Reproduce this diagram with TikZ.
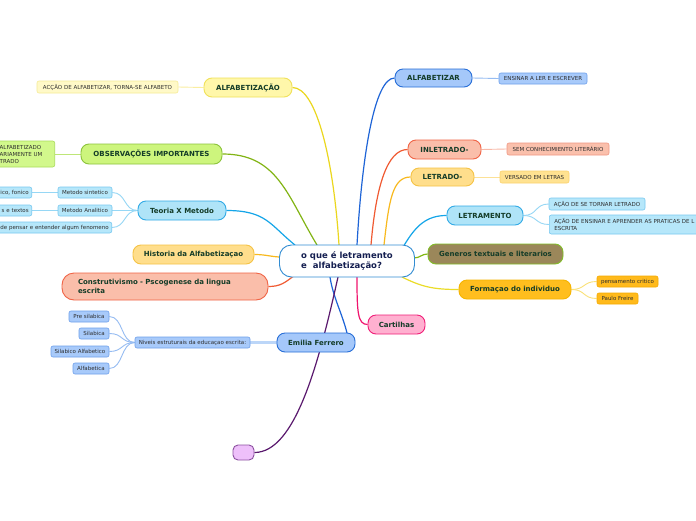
\documentclass[tikz,border=0pt]{standalone}
\usepackage{fontspec}
\setmainfont{DejaVu Sans}
\pgfdeclarelayer{bg}
\pgfsetlayers{bg,main}
\definecolor{tgreen}{RGB}{20,60,40}
\definecolor{tgray}{RGB}{45,45,45}
\definecolor{navy}{RGB}{20,30,80}
\definecolor{cblue}{RGB}{50,140,210}
% yellow (alfabetizacao)
\definecolor{yF}{RGB}{255,247,170}\definecolor{yD}{RGB}{240,225,90}\definecolor{yC}{RGB}{235,215,30}
\definecolor{ylF}{RGB}{255,249,200}\definecolor{ylD}{RGB}{245,235,150}\definecolor{ylC}{RGB}{250,238,160}
% green
\definecolor{gF}{RGB}{205,245,125}\definecolor{gD}{RGB}{140,195,60}\definecolor{gC}{RGB}{130,180,20}
\definecolor{glF}{RGB}{210,248,140}\definecolor{glD}{RGB}{170,220,90}\definecolor{glC}{RGB}{190,230,120}
% cyan
\definecolor{cF}{RGB}{175,228,248}\definecolor{cD}{RGB}{50,170,230}\definecolor{cC}{RGB}{20,165,232}
\definecolor{clF}{RGB}{182,231,250}\definecolor{clD}{RGB}{120,200,240}\definecolor{clC}{RGB}{150,215,245}
% orange-yellow
\definecolor{oF}{RGB}{255,222,140}\definecolor{oD}{RGB}{245,195,70}\definecolor{oC}{RGB}{248,185,30}
\definecolor{olF}{RGB}{255,226,145}\definecolor{olD}{RGB}{250,210,110}\definecolor{olC}{RGB}{252,225,150}
% salmon
\definecolor{sF}{RGB}{250,190,170}\definecolor{sD}{RGB}{240,100,70}\definecolor{sC}{RGB}{240,90,50}
\definecolor{slF}{RGB}{250,192,172}\definecolor{slD}{RGB}{240,150,130}\definecolor{slC}{RGB}{248,185,168}
% blue
\definecolor{bF}{RGB}{165,200,250}\definecolor{bD}{RGB}{40,110,215}\definecolor{bC}{RGB}{30,100,215}
\definecolor{blF}{RGB}{168,202,250}\definecolor{blD}{RGB}{110,160,235}\definecolor{blC}{RGB}{150,188,242}
\definecolor{bxC}{RGB}{188,214,248}
% purple
\definecolor{pF}{RGB}{238,192,250}\definecolor{pD}{RGB}{140,80,160}\definecolor{pC}{RGB}{90,25,110}
% magenta
\definecolor{mF}{RGB}{255,176,208}\definecolor{mD}{RGB}{240,30,120}\definecolor{mC}{RGB}{240,20,110}
% olive
\definecolor{vF}{RGB}{155,135,90}\definecolor{vD}{RGB}{130,190,40}\definecolor{vC}{RGB}{130,185,20}
% formacao
\definecolor{fF}{RGB}{255,190,30}\definecolor{fD}{RGB}{245,180,0}\definecolor{fC}{RGB}{235,220,40}
\definecolor{flF}{RGB}{255,186,28}\definecolor{flD}{RGB}{245,170,0}\definecolor{flC}{RGB}{250,225,120}
\begin{document}
\begin{tikzpicture}[x=1pt,y=-1pt,
  mainnode/.style={draw, rounded corners=8pt, line width=0.9pt, inner sep=0pt,
    font=\fontsize{7}{8.4}\selectfont\bfseries, text=tgreen},
  leafnode/.style={draw, rounded corners=2pt, line width=0.6pt, inner sep=0pt,
    font=\fontsize{5.5}{7}\selectfont, text=tgray},
  cutleft/.style={leafnode, anchor=east, text width=150pt, align=right, inner xsep=3pt},
  conn/.style={line width=1.2pt},
  lconn/.style={line width=0.9pt}]
\useasboundingbox (0,0) rectangle (696,520);

% center
\node[draw=cblue, fill=white, rounded corners=12pt, line width=0.9pt, inner sep=0pt,
  minimum width=135pt, minimum height=32pt, align=left,
  font=\fontsize{8.5}{10.5}\selectfont\bfseries, text=navy] (c) at (347,261)
  {o que é letramento\\e\ \ alfabetização?};

% left side
\node[mainnode, fill=yF, draw=yD, minimum width=88pt, minimum height=19pt] (alfa) at (248,87.5) {ALFABETIZAÇÃO};
\node[leafnode, fill=ylF, draw=ylD, minimum width=141pt, minimum height=12pt] (alfaL) at (107.5,87) {ACÇÃO DE ALFABETIZAR, TORNA-SE ALFABETO};

\node[mainnode, fill=gF, draw=gD, minimum width=141pt, minimum height=20pt] (obs) at (151.5,154) {OBSERVAÇÕES IMPORTANTES};
\node[leafnode, fill=glF, draw=glD, anchor=east, text width=52pt, align=left, inner xsep=3pt, minimum height=26pt] (obsL) at (55,154) {ALFABETIZADO\\ARIAMENTE UM\\TRADO};

\node[mainnode, fill=cF, draw=cD, minimum width=88pt, minimum height=19pt] (teo) at (182,210.5) {Teoria X Metodo};
\node[leafnode, fill=clF, draw=clD, minimum width=54pt, minimum height=11pt] (ms) at (85,192.5) {Metodo sintetico};
\node[leafnode, fill=clF, draw=clD, minimum width=54pt, minimum height=11pt] (ma) at (85,210.5) {Metodo Analitico};
\node[cutleft, fill=clF, draw=clD, minimum height=11pt] (dp) at (112,227.5) {de pensar e entender algum fenomeno};
\node[cutleft, fill=clF, draw=clD, minimum height=11pt] (ico) at (32,192.5) {ico, fonico};
\node[cutleft, fill=clF, draw=clD, minimum height=11pt] (ste) at (32,210.5) {s e textos};

\node[mainnode, fill=oF, draw=oD, minimum width=121pt, minimum height=19pt] (his) at (193.5,254.5) {Historia da Alfabetizaçao};
\node[mainnode, fill=sF, draw=sD, rounded corners=12pt, minimum height=27pt, text width=174pt, align=left, inner xsep=16pt] (con) at (165,286.5) {Construtivismo - Pscogenese da lingua\\escrita};

\node[mainnode, fill=bF, draw=bD, minimum width=78pt, minimum height=19pt] (em) at (316,342.5) {Emilia Ferrero};
\node[leafnode, fill=blF, draw=blD, minimum width=115pt, minimum height=11pt] (niv) at (192.5,342.5) {Niveis estruturais da educaçao escrita:};
\node[leafnode, fill=blF, draw=blD, minimum width=40pt, minimum height=11pt] (n1) at (89,316.5) {Pre silabica};
\node[leafnode, fill=blF, draw=blD, minimum width=30pt, minimum height=11pt] (n2) at (94,333.5) {Silabica};
\node[leafnode, fill=blF, draw=blD, minimum width=58pt, minimum height=11pt] (n3) at (80,351.5) {Silabico Alfabetico};
\node[leafnode, fill=blF, draw=blD, minimum width=36pt, minimum height=11pt] (n4) at (91,368.5) {Alfabetica};

\node[mainnode, fill=pF, draw=pD, rounded corners=5pt, minimum width=21pt, minimum height=15pt] (pur) at (243.5,452.5) {};
\node[mainnode, fill=mF, draw=mD, minimum width=57pt, minimum height=19pt] (cart) at (396.5,324.5) {Cartilhas};

% right side
\node[mainnode, fill=bF, draw=bD, minimum width=77pt, minimum height=18pt] (alfz) at (433.5,78) {ALFABETIZAR};
\node[leafnode, fill=blF, draw=blD, minimum width=88pt, minimum height=11pt] (ens) at (543,78.5) {ENSINAR A LER E ESCREVER};
\node[mainnode, fill=sF, draw=sD, minimum width=73pt, minimum height=19pt] (inl) at (444.5,149.5) {INLETRADO-};
\node[leafnode, fill=slF, draw=slD, minimum width=102pt, minimum height=12pt] (sem) at (558,149) {SEM CONHECIMIENTO LITERÁRIO};
\node[mainnode, fill=oF, draw=oD, minimum width=63pt, minimum height=18pt] (let) at (442.5,177) {LETRADO-};
\node[leafnode, fill=olF, draw=olD, minimum width=69pt, minimum height=12pt] (ver) at (534.5,177) {VERSADO EM LETRAS};
\node[mainnode, fill=cF, draw=cD, minimum width=76pt, minimum height=19pt] (ltm) at (485,215.5) {LETRAMENTO};
\node[leafnode, fill=clF, draw=clD, minimum width=96pt, minimum height=12pt] (l1) at (597,204) {AÇÃO DE SE TORNAR LETRADO};
\node[leafnode, fill=clF, draw=clD, anchor=west, text width=200pt, align=left, inner xsep=5pt, minimum height=19pt] (l2) at (549,224.5) {AÇÃO DE ENSINAR E APRENDER AS PRATICAS DE L\\ESCRITA};
\node[mainnode, fill=vF, draw=vD, minimum width=135pt, minimum height=20pt] (gen) at (495.5,254) {Generos textuais e literarios};
\node[mainnode, fill=fF, draw=fD, minimum width=112pt, minimum height=19pt] (form) at (515,289.5) {Formaçao do individuo};
\node[leafnode, fill=flF, draw=flD, minimum width=61pt, minimum height=11pt] (f1) at (627.5,281.5) {pensamento critico};
\node[leafnode, fill=flF, draw=flD, minimum width=41pt, minimum height=11pt] (f2) at (617.5,298.5) {Paulo Freire};

% attach points on the center node
\coordinate (tTeo) at (295,245);
\coordinate (tObs) at (317,245);
\coordinate (tAlfa) at (339,245);
\coordinate (tAlfz) at (357,245);
\coordinate (tInl) at (371,245);
\coordinate (tLet) at (384,245);
\coordinate (tLtm) at (404,245.5);
\coordinate (eGen) at (414,258);
\coordinate (bForm) at (402,277);
\coordinate (bCart) at (357,277);
\coordinate (bEm) at (330,277);
\coordinate (bPur) at (338,277);
\coordinate (bCon) at (293,276.5);
\coordinate (wHis) at (281.5,257);
\coordinate (eTop) at (347,333);

\begin{pgfonlayer}{bg}
\fill[white] (0,0) rectangle (696,520);
% main connectors
\draw[conn, cC] (teo.east) .. controls +(40,0) and +(-25,-20) .. (tTeo);
\draw[conn, gC] (obs.east) .. controls +(55,0) and +(-30,-50) .. (tObs);
\draw[conn, yC] (alfa.east) .. controls +(25,0) and +(-5,-80) .. (tAlfa);
\draw[conn, bC] (tAlfz) .. controls +(5,-90) and +(-20,0) .. (alfz.west);
\draw[conn, sC] (tInl) .. controls +(5,-60) and +(-20,0) .. (inl.west);
\draw[conn, oC] (tLet) .. controls +(5,-45) and +(-18,0) .. (let.west);
\draw[conn, cC] (tLtm) .. controls +(12,-20) and +(-20,0) .. (ltm.west);
\draw[conn, vC] (eGen) .. controls +(6,0) and +(-6,0) .. (gen.west);
\draw[conn, fC] (bForm) .. controls +(20,10) and +(-25,0) .. (form.west);
\draw[conn, mC] (bCart) .. controls +(0,35) and +(-10,0) .. (cart.west);
\draw[conn, bC] (bEm) .. controls +(3,20) and +(-5,-20) .. (eTop);
\draw[conn, pC] (bPur) .. controls +(-20,90) and +(40,0) .. (pur.east);
\draw[conn, sC] (con.east) .. controls +(12,0) and +(-8,6) .. (bCon);
\draw[conn, oC] (his.east) .. controls +(12,0) and +(-10,0) .. (wHis);
% leaf connectors
\draw[lconn, ylC] (alfa.west) -- (alfaL.east);
\draw[lconn, glC] (obs.west) -- (obsL.east);
\draw[lconn, clC] (teo.west) .. controls +(-14,0) and +(14,0) .. (ms.east);
\draw[lconn, clC] (teo.west) -- (ma.east);
\draw[lconn, clC] (teo.west) .. controls +(-14,0) and +(14,0) .. (dp.east);
\draw[lconn, clC] (ms.west) -- (ico.east);
\draw[lconn, clC] (ma.west) -- (ste.east);
\draw[line width=2.4pt, bxC] (em.west) -- (niv.east);
\draw[lconn, blC] (niv.west) .. controls +(-14,0) and +(14,0) .. (n1.east);
\draw[lconn, blC] (niv.west) .. controls +(-14,0) and +(14,0) .. (n2.east);
\draw[lconn, blC] (niv.west) .. controls +(-14,0) and +(14,0) .. (n3.east);
\draw[lconn, blC] (niv.west) .. controls +(-14,0) and +(14,0) .. (n4.east);
\draw[lconn, blC] (alfz.east) -- (ens.west);
\draw[lconn, slC] (inl.east) -- (sem.west);
\draw[lconn, olC] (let.east) -- (ver.west);
\draw[lconn, clC] (ltm.east) .. controls +(14,0) and +(-14,0) .. (l1.west);
\draw[lconn, clC] (ltm.east) .. controls +(14,0) and +(-14,0) .. (l2.west);
\draw[lconn, flC] (form.east) .. controls +(14,0) and +(-14,0) .. (f1.west);
\draw[lconn, flC] (form.east) .. controls +(14,0) and +(-14,0) .. (f2.west);
\end{pgfonlayer}
\end{tikzpicture}
\end{document}
